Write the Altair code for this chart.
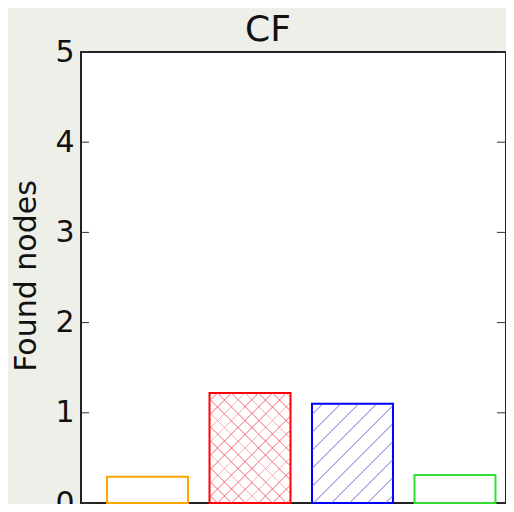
import math
import altair as alt
import pandas as pd

# ---- data ----
title_text = "CF"
categories = ["A", "B", "C", "D"]
values = [0.29, 1.22, 1.10, 0.31]
edge_colors = ["#ffa500", "#ff0000", "#0000ff", "#33dd33"]
y_ticks = [0, 1, 2, 3, 4, 5]

df = pd.DataFrame({"cat": categories, "val": values})
ticks_df = pd.DataFrame({"val": y_ticks})
title_df = pd.DataFrame({"t": [title_text]})

W, H = 425, 451
PX_PER_UNIT = H / 5.0
BAND = 81.0
CLEAR = "rgba(255,255,255,0)"


def hatch(w, h, nx, ny, spacing, lw, color):
    a, b = nx * w, ny * h
    sx = 0 if nx >= 0 else 1
    sy = 0 if ny >= 0 else 1
    dx = 1 if nx >= 0 else -1
    dy = 1 if ny >= 0 else -1
    s = (dx * a + dy * b) / (a * a + b * b)
    x2, y2 = sx + s * a, sy + s * b
    D = (w * abs(nx) + h * abs(ny)) / math.hypot(nx, ny)
    dt = spacing / D
    hw = lw / 2.0 / D
    stops = [alt.GradientStop(offset=0, color=CLEAR)]
    t = dt * 0.6
    while t + hw < 1:
        stops += [
            alt.GradientStop(offset=t - hw, color=CLEAR),
            alt.GradientStop(offset=t - hw, color=color),
            alt.GradientStop(offset=t + hw, color=color),
            alt.GradientStop(offset=t + hw, color=CLEAR),
        ]
        t += dt
    stops.append(alt.GradientStop(offset=1, color=CLEAR))
    return alt.Gradient(gradient="linear", stops=stops,
                        x1=sx, y1=sy, x2=x2, y2=y2)


xscale = alt.Scale(domain=categories, range=[0, 440.5],
                   paddingInner=0.21, paddingOuter=0.254)
yscale = alt.Scale(domain=[0, 5], nice=False, zero=True)

yaxis = alt.Axis(
    values=y_ticks, ticks=False, domain=False, grid=False,
    labelFontSize=30, labelFont="DejaVu Sans", labelColor="#111111",
    labelPadding=7, labelFlush=False, labelOverlap=False,
    title="Found nodes", titleFontSize=30, titleFont="DejaVu Sans",
    titleFontWeight="normal", titleColor="#111111",
    titleAngle=-90, titleX=-46, titleY=H / 2 - 2,
    titleAlign="center", titleBaseline="alphabetic",
)

X = alt.X("cat:N", sort=categories, scale=xscale, axis=None)
Y = alt.Y("val:Q", scale=yscale, axis=yaxis)

base = alt.Chart(df)

red_h = values[1] * PX_PER_UNIT
blue_h = values[2] * PX_PER_UNIT
red_col = "rgba(238,70,90,0.42)"
blue_col = "rgba(80,80,215,0.42)"

red1 = base.transform_filter(alt.datum.cat == categories[1]).mark_bar(
    fill=hatch(BAND, red_h, 1, 1, 9.7, 1.2, red_col), strokeWidth=0
).encode(x=X, y=Y)
red2 = base.transform_filter(alt.datum.cat == categories[1]).mark_bar(
    fill=hatch(BAND, red_h, 1, -1, 9.7, 1.2, red_col), strokeWidth=0
).encode(x=X, y=Y)
blue1 = base.transform_filter(alt.datum.cat == categories[2]).mark_bar(
    fill=hatch(BAND, blue_h, 1, 1, 12.7, 1.2, blue_col), strokeWidth=0
).encode(x=X, y=Y)

outline = base.mark_bar(fill=CLEAR, strokeWidth=2).encode(
    x=X, y=Y,
    stroke=alt.Stroke("cat:N", scale=alt.Scale(domain=categories, range=edge_colors),
                      legend=None),
)

tick_base = alt.Chart(ticks_df).mark_rule(color="#333333", strokeWidth=1)
left_ticks = tick_base.encode(y=Y, x=alt.value(0), x2=alt.value(8))
right_ticks = tick_base.encode(y=Y, x=alt.value(W - 9), x2=alt.value(W))

title_mark = alt.Chart(title_df).mark_text(
    fontSize=36, font="DejaVu Sans", color="#111111",
    align="center", baseline="alphabetic",
).encode(text="t:N", x=alt.value(187), y=alt.value(-11))

chart = alt.layer(outline, red1, red2, blue1, left_ticks, right_ticks,
                  title_mark).properties(
    width=W, height=H,
    autosize=alt.AutoSizeParams(type="none"),
    padding={"left": 73, "top": 44, "right": 0, "bottom": 1},
    background="#efefea",
).configure_view(stroke="#222222", strokeWidth=2, fill="white")

chart.save("out.html", embed_options={"renderer": "svg", "actions": False})
